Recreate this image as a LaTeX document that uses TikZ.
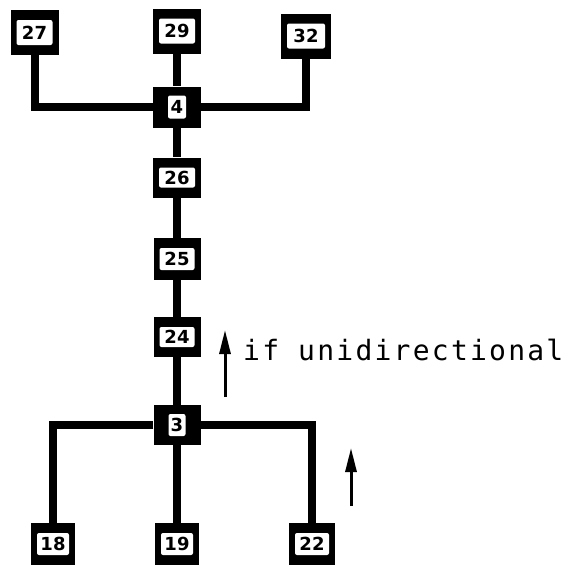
\documentclass[tikz,border=0pt]{standalone}
\usepackage{fontspec}
\newfontfamily\numfont{DejaVu Sans}
\newfontfamily\labfont[LetterSpace=8]{DejaVu Sans Mono}
\usetikzlibrary{arrows.meta}
\tikzset{
  tag/.style={rectangle, fill=black, inner sep=0pt,
    font=\numfont\bfseries\fontsize{18}{18}\selectfont,
    path picture={\fill[white,rounded corners=2pt]
      ([xshift=6pt,yshift=-10pt]path picture bounding box.north west) rectangle
      ([xshift=-6pt,yshift=10pt]path picture bounding box.south east);}},
  hub/.style={rectangle, fill=black, inner sep=0pt,
    font=\numfont\bfseries\fontsize{18}{18}\selectfont,
    path picture={\fill[white,rounded corners=2pt]
      ([xshift=15pt,yshift=-9pt]path picture bounding box.north west) rectangle
      ([xshift=-15pt,yshift=9pt]path picture bounding box.south east);}},
  link/.style={line width=8pt, line join=miter},
  arrowline/.style={line width=3pt, -{Triangle[length=24pt,width=11pt]}},
  lbl/.style={anchor=base west, inner sep=0pt,
    font=\labfont\fontsize{28}{28}\selectfont}
}
\begin{document}
\begin{tikzpicture}[x=1pt,y=-1pt]
\useasboundingbox (0,0) rectangle (571,565);
% nodes
\node[tag, minimum width=48pt, minimum height=45pt] (n27) at (34.5,32.5) {27};
\node[tag, minimum width=48pt, minimum height=45pt] (n29) at (177,31) {29};
\node[tag, minimum width=50pt, minimum height=45pt] (n32) at (306,36) {32};
\node[hub, minimum width=48pt, minimum height=41pt] (n4) at (177,107) {4};
\node[tag, minimum width=48pt, minimum height=40pt] (n26) at (177,177.5) {26};
\node[tag, minimum width=47pt, minimum height=42pt] (n25) at (177,259) {25};
\node[tag, minimum width=47pt, minimum height=40pt] (n24) at (177,337) {24};
\node[hub, minimum width=47pt, minimum height=40pt] (n3) at (177,425) {3};
\node[tag, minimum width=44pt, minimum height=42pt] (n18) at (53,544) {18};
\node[tag, minimum width=44pt, minimum height=42pt] (n19) at (177,544) {19};
\node[tag, minimum width=46pt, minimum height=42pt] (n22) at (312,544) {22};
% connectors
\draw[link] (n27) |- (n4);
\draw[link] (n29) -- (n4);
\draw[link] (n32) |- (n4);
\draw[link] (n4) -- (n26);
\draw[link] (n26) -- (n25);
\draw[link] (n25) -- (n24);
\draw[link] (n24) -- (n3);
\draw[link] (n3) -| (n18);
\draw[link] (n3) -- (n19);
\draw[link] (n3) -| (n22);
% direction arrows
\coordinate (a1s) at (225,397);
\coordinate (a1e) at (225,330);
\coordinate (a2s) at (351,506);
\coordinate (a2e) at (351,448);
\draw[arrowline] (a1s) -- (a1e);
\draw[arrowline] (a2s) -- (a2e);
\node[lbl] (txt) at (243,360) {if unidirectional};
\end{tikzpicture}
\end{document}
